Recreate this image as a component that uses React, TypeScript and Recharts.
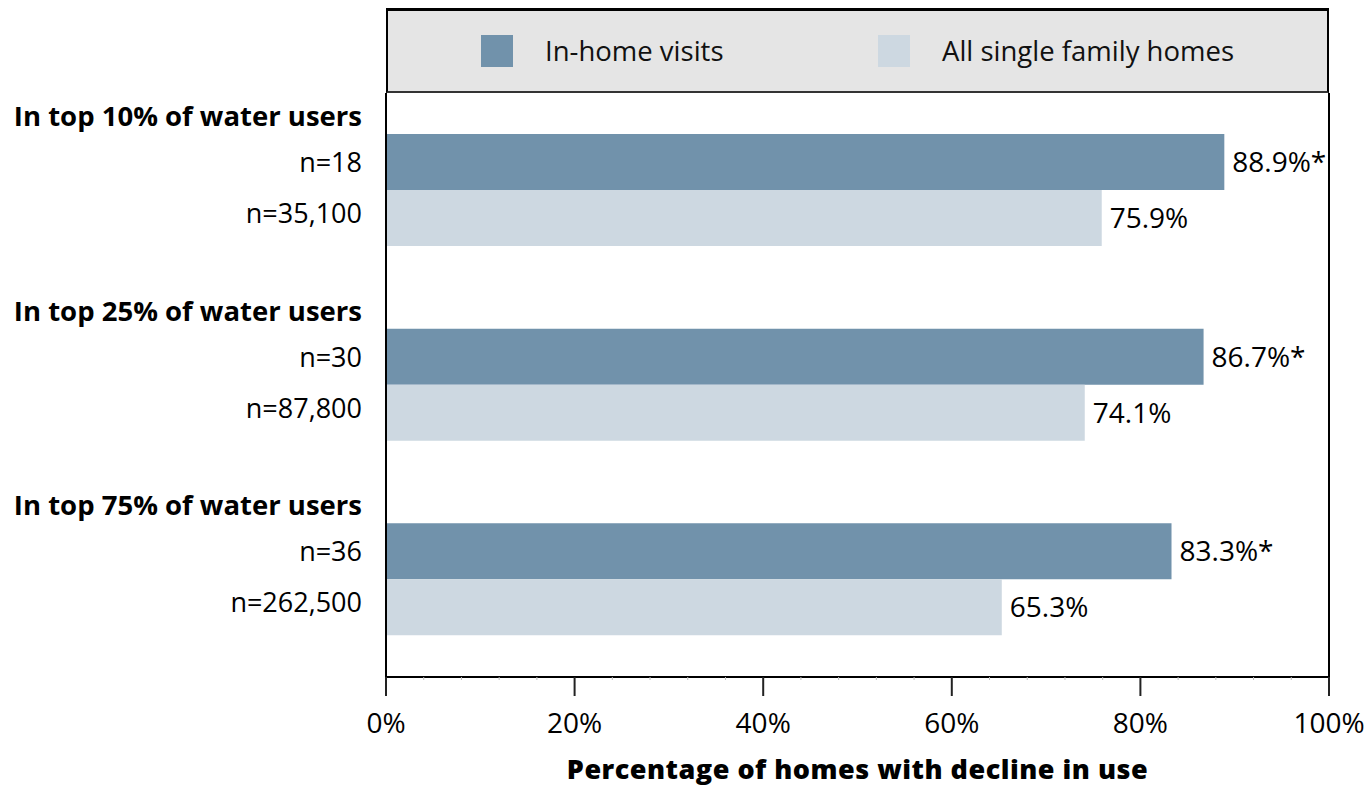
import React from 'react';
import { BarChart, Bar, XAxis, YAxis, Legend, LabelList, ReferenceLine } from 'recharts';

const groups = ['In top 10% of water users', 'In top 25% of water users', 'In top 75% of water users'];
const inHomeValues = [88.9, 86.7, 83.3];
const allHomesValues = [75.9, 74.1, 65.3];
const inHomeN = ['n=18', 'n=30', 'n=36'];
const allHomesN = ['n=35,100', 'n=87,800', 'n=262,500'];
const seriesNames = ['In-home visits', 'All single family homes'];
const xTicks = [0, 4, 8, 12, 16, 20, 24, 28, 32, 36, 40, 44, 48, 52, 56, 60, 64, 68, 72, 76, 80, 84, 88, 92, 96, 100];
const xTitle = 'Percentage of homes with decline in use';

const DARK = '#7192ab';
const LIGHT = '#cdd8e1';
const FONT = '"Open Sans", sans-serif';

const data = groups.map((g, i) => ({
  group: g,
  inHome: inHomeValues[i],
  allHomes: allHomesValues[i],
}));

const YTick = (props: any) => {
  const { x, y, payload } = props;
  const i = payload.index;
  const tx = x - 24;
  return (
    <g fontFamily={FONT} fill="#000">
      <text x={tx} y={y - 75} textAnchor="end" dominantBaseline="central" fontWeight="bold" fontSize={27.5}>{groups[i]}</text>
      <text x={tx} y={y - 29} textAnchor="end" dominantBaseline="central" fontSize={27}>{inHomeN[i]}</text>
      <text x={tx} y={y + 22} textAnchor="end" dominantBaseline="central" fontSize={27}>{allHomesN[i]}</text>
    </g>
  );
};

const XTick = (props: any) => {
  const { x, y, payload } = props;
  const v = payload.value;
  if (v % 20 === 0) {
    return (
      <g>
        <line x1={x} x2={x} y1={y} y2={y + 19} stroke="#222" strokeWidth={2} />
        <text x={x} y={y + 45} textAnchor="middle" dominantBaseline="central" fontFamily={FONT} fontSize={28} fill="#000">{`${v}%`}</text>
      </g>
    );
  }
  return <line x1={x} x2={x} y1={y} y2={y + 3} stroke="#bbb" strokeWidth={1} />;
};

const LegendBox = () => (
  <div
    style={{
      boxSizing: 'border-box',
      height: 85,
      width: 943,
      background: '#e5e5e5',
      borderTop: '3px solid #000',
      borderLeft: '2px solid #000',
      borderRight: '2px solid #000',
      borderBottom: '2px solid #333',
      position: 'relative',
      fontFamily: FONT,
      fontSize: 27.5,
      color: '#111',
    }}
  >
    {[
      { color: DARK, name: seriesNames[0], sq: 95, tx: 159 },
      { color: LIGHT, name: seriesNames[1], sq: 492, tx: 556 },
    ].map((it) => (
      <React.Fragment key={it.name}>
        <div style={{ position: 'absolute', left: it.sq - 2, top: 24, width: 32, height: 32, background: it.color }} />
        <div style={{ position: 'absolute', left: it.tx - 2, top: 21, lineHeight: '38px', whiteSpace: 'nowrap' }}>{it.name}</div>
      </React.Fragment>
    ))}
  </div>
);

export default function App() {
  return (
    <div style={{ position: 'absolute', left: 0, top: 0, width: 1372, height: 794, background: '#fff' }}>
      <BarChart
        width={1372}
        height={794}
        data={data}
        layout="vertical"
        margin={{ top: 8, right: 43, bottom: 0, left: 0 }}
        barGap={0}
      >
        <Legend
          verticalAlign="top"
          align="left"
          content={() => <LegendBox />}
          wrapperStyle={{ top: 8, left: 386, width: 943, height: 85 }}
        />
        <XAxis
          type="number"
          domain={[0, 100]}
          ticks={xTicks}
          interval={0}
          height={117}
          tickSize={0}
          tickMargin={0}
          tickLine={false}
          axisLine={{ stroke: '#000', strokeWidth: 2 }}
          tick={<XTick />}
          label={{ value: xTitle, position: 'insideBottom', offset: 15, style: { fontFamily: FONT, fontSize: 27, fontWeight: 800, letterSpacing: 0.5, fill: '#000' } }}
        />
        <YAxis
          type="category"
          dataKey="group"
          width={386}
          tickSize={0}
          tickMargin={0}
          tickLine={false}
          axisLine={{ stroke: '#000', strokeWidth: 2 }}
          tick={<YTick />}
          interval={0}
        />
        <ReferenceLine x={100} stroke="#000" strokeWidth={2} />
        <Bar dataKey="inHome" name={seriesNames[0]} fill={DARK} barSize={56} isAnimationActive={false}>
          <LabelList
            dataKey="inHome"
            position="right"
            offset={8}
            formatter={(v: any) => `${v}%*`}
            style={{ fontFamily: FONT, fontSize: 28, fill: '#000' }}
          />
        </Bar>
        <Bar dataKey="allHomes" name={seriesNames[1]} fill={LIGHT} barSize={56} isAnimationActive={false}>
          <LabelList
            dataKey="allHomes"
            position="right"
            offset={8}
            formatter={(v: any) => `${v}%`}
            style={{ fontFamily: FONT, fontSize: 28, fill: '#000' }}
          />
        </Bar>
      </BarChart>
    </div>
  );
}
